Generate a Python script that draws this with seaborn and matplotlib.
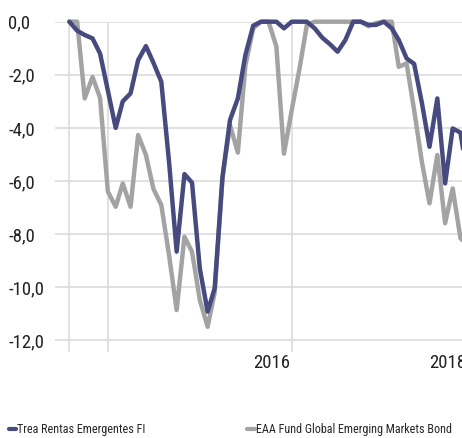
import seaborn as sns
import pandas as pd
import matplotlib.pyplot as plt
import matplotlib.dates as mdates
import matplotlib.transforms as mtransforms

# monthly drawdown (%), from Aug 2013
trea = [0.0, -0.34, -0.5, -0.63, -1.2, -2.6, -4.0, -3.0, -2.7, -1.45,
        -0.92, -1.55, -2.26, -5.3, -8.66, -5.74, -6.06, -9.3, -10.92, -10.04,
        -5.84, -3.7, -2.89, -1.25, -0.15, 0.0, 0.0, 0.0, -0.25, 0.0,
        0.0, 0.0, -0.25, -0.6, -0.85, -1.13, -0.69, 0.0, 0.0, -0.12,
        -0.12, 0.0, -0.25, -0.69, -1.38, -1.59, -3.07, -4.71, -2.89, -6.09,
        -4.02, -4.18, -6.0]
eaa = [0.0, 0.0, -2.89, -2.08, -2.87, -6.4, -6.97, -6.09, -6.97, -4.27,
       -5.02, -6.3, -6.9, -8.8, -10.86, -8.1, -8.66, -10.48, -11.49, -10.2,
       -5.9, -3.9, -4.93, -1.65, -0.25, 0.0, 0.0, -0.94, -4.97, -3.33,
       -1.76, -0.12, 0.0, 0.0, 0.0, 0.0, 0.0, 0.0, 0.0, -0.17,
       -0.05, 0.0, 0.0, -1.7, -1.57, -3.33, -5.3, -6.84, -5.02, -7.59,
       -6.28, -8.16, -8.4]
names = ['Trea Rentas Emergentes FI', 'EAA Fund Global Emerging Markets Bond']
dates = pd.date_range('2013-08-01', periods=len(trea), freq='MS')
yticks = [0, -2, -4, -6, -8, -10, -12]
grid_dates = pd.to_datetime(['2013-08-01', '2014-01-01', '2016-01-01', '2018-01-01'])
years = ['2016', '2018']

df = pd.DataFrame({'fecha': list(dates) * 2,
                   'valor': trea + eaa,
                   'serie': [names[0]] * len(trea) + [names[1]] * len(eaa)})
colores = {names[0]: '#464a7e', names[1]: '#a3a3a3'}

sns.set_style('white')
plt.rcParams['font.family'] = ['Roboto Condensed', 'Liberation Sans Narrow',
                               'DejaVu Sans Condensed', 'Liberation Sans']

fig = plt.figure(figsize=(4.62, 4.38), dpi=100)
ax = fig.add_axes([55 / 462, 86 / 438, 1 - 55 / 462, (352 - 21.7) / 438])

sns.lineplot(data=df, x='fecha', y='valor', hue='serie', ax=ax,
             palette=colores, hue_order=names[::-1],
             linewidth=3.2, legend=False)
for ln in ax.lines:
    ln.set_clip_on(False)

ax.set_yticks(yticks)
ax.set_yticklabels([f'{v:.1f}'.replace('.', ',') for v in yticks], ha='left')
ax.set_xticks(grid_dates)
ax.set_xticklabels([''] * len(grid_dates))
ax.set_ylim(-12.44, 0)
ax.set_xlim(mdates.date2num(pd.Timestamp('2013-06-05')),
            mdates.date2num(pd.Timestamp('2017-11-07')))
ax.grid(True, color='#d9d9d9', linewidth=1.1)
ax.set_axisbelow(True)
ax.tick_params(length=0, labelsize=13.5, colors='#222222')
ax.tick_params(axis='y', pad=33.8)
ax.set_xlabel('')
ax.set_ylabel('')
for s in ax.spines.values():
    s.set_visible(False)

# year labels sit to the left of their gridline (2018 is cut by the edge)
trans = mtransforms.blended_transform_factory(ax.transData, ax.transAxes)
for y, back in zip(years, [155, 187]):
    x = mdates.date2num(pd.Timestamp(f'{y}-01-01') - pd.Timedelta(days=back))
    ax.text(x, -0.005, y, transform=trans, ha='left', va='top',
            fontsize=13.5, color='#222222', clip_on=False)

handles = [plt.Line2D([], [], color=colores[n], lw=3) for n in names]
fig.legend(handles, names, loc='center left', bbox_to_anchor=(9 / 462, 8 / 438),
           ncol=2, frameon=False, fontsize=8.7, handlelength=0.6,
           handletextpad=0.1, columnspacing=8.4, borderaxespad=0, borderpad=0)

fig.savefig('out.png', dpi=100)
